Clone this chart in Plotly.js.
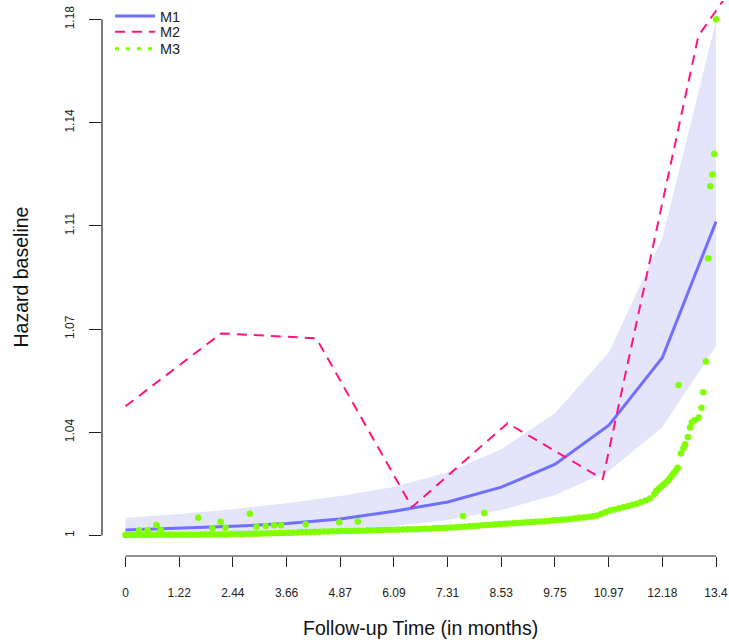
<!DOCTYPE html>
<html>
<head>
<meta charset="utf-8">
<script src="https://cdn.plot.ly/plotly-3.0.1.min.js"></script>
<style>html,body{margin:0;padding:0;background:#fff;}</style>
</head>
<body>
<div id="chart" style="width:729px;height:643px;"></div>
<script>
// ---- data ----
var xTickVals = [0, 1.218, 2.436, 3.655, 4.873, 6.091, 7.309, 8.527, 9.745, 10.964, 12.182, 13.4];
var xTickLabels = ['0', '1.22', '2.44', '3.66', '4.87', '6.09', '7.31', '8.53', '9.75', '10.97', '12.18', '13.4'];
var yTickVals = [1, 1.036, 1.072, 1.108, 1.144, 1.18];
var yTickLabels = ['1', '1.04', '1.07', '1.11', '1.14', '1.18'];

// M1: fitted baseline hazard with confidence band
var m1Time = [0, 1.22, 2.44, 3.66, 4.87, 6.09, 7.31, 8.53, 9.75, 10.97, 12.18, 13.4];
var m1Hazard = [1.0019, 1.0025, 1.0032, 1.0042, 1.0058, 1.0085, 1.0117, 1.0169, 1.0249, 1.0385, 1.0620, 1.1095];
var m1Upper = [1.0061, 1.0075, 1.0092, 1.0113, 1.0138, 1.0169, 1.0221, 1.0301, 1.0427, 1.0639, 1.1037, 1.1795];
var m1Lower = [1.0005, 1.0009, 1.0012, 1.0016, 1.0023, 1.0033, 1.0054, 1.0089, 1.0141, 1.0225, 1.0378, 1.0660];

// M2: piecewise hazard
var m2Time = [0, 2.17, 4.33, 6.50, 8.67, 10.83, 13.00, 15.17];
var m2Hazard = [1.0451, 1.0705, 1.0688, 1.0099, 1.0392, 1.0197, 1.1743, 1.2218];

// M3: points (dense curve at event times + scattered points)
var m3CurveTime = [0.0,0.1,0.2,0.3,0.4,0.5,0.6,0.7,0.8,0.9,1.0,1.1,1.2,1.3,1.4,1.5,1.6,1.7,1.8,1.9,2.0,2.1,2.2,2.3,2.4,2.5,2.6,2.7,2.8,2.9,3.0,3.1,3.2,3.3,3.4,3.5,3.6,3.7,3.8,3.9,4.0,4.1,4.2,4.3,4.4,4.5,4.6,4.7,4.8,4.9,5.0,5.1,5.2,5.3,5.4,5.5,5.6,5.7,5.8,5.9,6.0,6.1,6.2,6.3,6.4,6.5,6.6,6.7,6.8,6.9,7.0,7.1,7.2,7.3,7.4,7.5,7.6,7.7,7.8,7.9,8.0,8.1,8.2,8.3,8.4,8.5,8.6,8.7,8.8,8.9,9.0,9.1,9.2,9.3,9.4,9.5,9.6,9.7,9.8,9.9,10.0,10.1,10.2,10.3,10.4,10.5,10.6,10.7,10.8,10.9,11.0,11.1,11.2,11.3,11.4,11.5,11.6,11.7,11.8,11.9,12.0,12.05,12.1,12.15,12.2,12.25,12.3,12.35,12.4,12.45,12.49,12.53];
var m3CurveHazard = [1.0002,1.0002,1.0002,1.0002,1.0002,1.0002,1.0003,1.0003,1.0003,1.0003,1.0003,1.0003,1.0003,1.0003,1.0003,1.0003,1.0003,1.0004,1.0004,1.0004,1.0004,1.0004,1.0004,1.0004,1.0005,1.0005,1.0005,1.0005,1.0006,1.0006,1.0006,1.0007,1.0007,1.0008,1.0008,1.0009,1.0009,1.0010,1.0010,1.0011,1.0012,1.0012,1.0012,1.0013,1.0013,1.0014,1.0014,1.0015,1.0015,1.0016,1.0016,1.0016,1.0017,1.0017,1.0017,1.0018,1.0018,1.0019,1.0019,1.0020,1.0020,1.0020,1.0021,1.0021,1.0022,1.0022,1.0022,1.0023,1.0024,1.0024,1.0025,1.0026,1.0026,1.0027,1.0028,1.0029,1.0030,1.0031,1.0032,1.0033,1.0034,1.0036,1.0037,1.0038,1.0039,1.0040,1.0041,1.0042,1.0043,1.0044,1.0045,1.0046,1.0047,1.0048,1.0049,1.0050,1.0051,1.0053,1.0054,1.0055,1.0056,1.0058,1.0060,1.0062,1.0063,1.0065,1.0067,1.0070,1.0076,1.0082,1.0088,1.0091,1.0095,1.0099,1.0102,1.0107,1.0111,1.0117,1.0122,1.0129,1.0145,1.0156,1.0163,1.0170,1.0176,1.0183,1.0190,1.0200,1.0210,1.0220,1.0228,1.0236];
var m3ScatterTime = [0.31,0.50,0.70,0.80,1.65,1.97,2.16,2.27,2.82,2.97,3.18,3.37,3.53,4.09,4.85,5.27,7.66,8.14,12.55,12.60,12.66,12.70,12.76,12.81,12.85,12.91,13.01,13.07,13.11,13.17,13.22,13.27,13.32,13.36,13.40];
var m3ScatterHazard = [1.0018,1.0018,1.0037,1.0019,1.0062,1.0025,1.0048,1.0027,1.0076,1.0031,1.0033,1.0036,1.0036,1.0039,1.0046,1.0049,1.0068,1.0079,1.0525,1.0286,1.0304,1.0318,1.0344,1.0377,1.0394,1.0402,1.0412,1.0446,1.0500,1.0607,1.0967,1.1218,1.1259,1.1331,1.1801];

// ---- traces ----
var FONT = 'Liberation Sans, Arial, Helvetica, sans-serif';
var bandX = m1Time.concat(m1Time.slice().reverse());
var bandY = m1Upper.concat(m1Lower.slice().reverse());

var traces = [
  {x: bandX, y: bandY, type: 'scatter', mode: 'lines', fill: 'toself',
   fillcolor: '#E4E4FA', line: {width: 0, color: '#E4E4FA'}, showlegend: false, hoverinfo: 'skip'},
  {x: m1Time, y: m1Hazard, type: 'scatter', mode: 'lines', name: 'M1', legend: 'legend',
   line: {color: '#7070FF', width: 3}},
  {x: m2Time, y: m2Hazard, type: 'scatter', mode: 'lines', name: 'M2', legend: 'legend2',
   line: {color: '#FF1480', width: 2, dash: '10px,7px'}},
  {x: m3CurveTime.concat(m3ScatterTime), y: m3CurveHazard.concat(m3ScatterHazard),
   type: 'scatter', mode: 'markers', name: 'M3', showlegend: false,
   marker: {color: '#7FFF00', size: 6.5, line: {width: 0}}},
  {x: [null], y: [null], type: 'scatter', mode: 'lines', name: 'M3', legend: 'legend3',
   line: {color: '#7FFF00', width: 3, dash: '4px,7px'}}
];

function legendAt(yTop) {
  return {x: 0.0128, y: yTop, xanchor: 'left', yanchor: 'top', bgcolor: 'rgba(0,0,0,0)',
          font: {family: FONT, size: 14.5, color: '#222'}, itemwidth: 40};
}

var layout = {
  width: 729, height: 643,
  margin: {l: 102, r: 0, t: 0, b: 87, pad: 0},
  paper_bgcolor: '#fff', plot_bgcolor: '#fff',
  font: {family: FONT, color: '#222'},
  showlegend: true,
  legend: legendAt(1.002),
  legend2: legendAt(0.9715),
  legend3: legendAt(0.941),
  xaxis: {range: [-0.533, 13.694], tickmode: 'array', tickvals: xTickVals, ticktext: xTickLabels,
          ticks: 'outside', ticklen: 10, tickwidth: 1, tickcolor: '#222',
          showgrid: false, zeroline: false, showline: false,
          tickfont: {family: FONT, size: 12, color: '#222'}, ticklabelstandoff: 16},
  yaxis: {range: [0.99286, 1.18644], tickmode: 'array', tickvals: yTickVals, ticktext: yTickLabels,
          tickangle: -90, ticks: 'outside', ticklen: 12, tickwidth: 1, tickcolor: '#222',
          showgrid: false, zeroline: false, showline: false,
          tickfont: {family: FONT, size: 12, color: '#222'}, ticklabelstandoff: 10},
  shapes: [
    {type: 'line', xref: 'x', yref: 'paper', x0: 0, x1: 13.4, y0: 0, y1: 0, line: {color: '#222', width: 1.2}},
    {type: 'line', xref: 'paper', yref: 'y', x0: 0, x1: 0, y0: 1, y1: 1.18, line: {color: '#222', width: 1.2}}
  ],
  annotations: [
    {text: 'Follow-up Time (in months)', xref: 'x', yref: 'paper', x: 6.7, y: 0, yshift: -72,
     showarrow: false, font: {family: FONT, size: 19.5, color: '#111'}, xanchor: 'center', yanchor: 'middle'},
    {text: 'Hazard baseline', xref: 'paper', yref: 'y', x: 0, y: 1.09, xshift: -82,
     showarrow: false, textangle: -90, font: {family: FONT, size: 19.5, color: '#111'}, xanchor: 'center', yanchor: 'middle'}
  ]
};

Plotly.newPlot('chart', traces, layout, {displayModeBar: false, staticPlot: true});
</script>
</body>
</html>
